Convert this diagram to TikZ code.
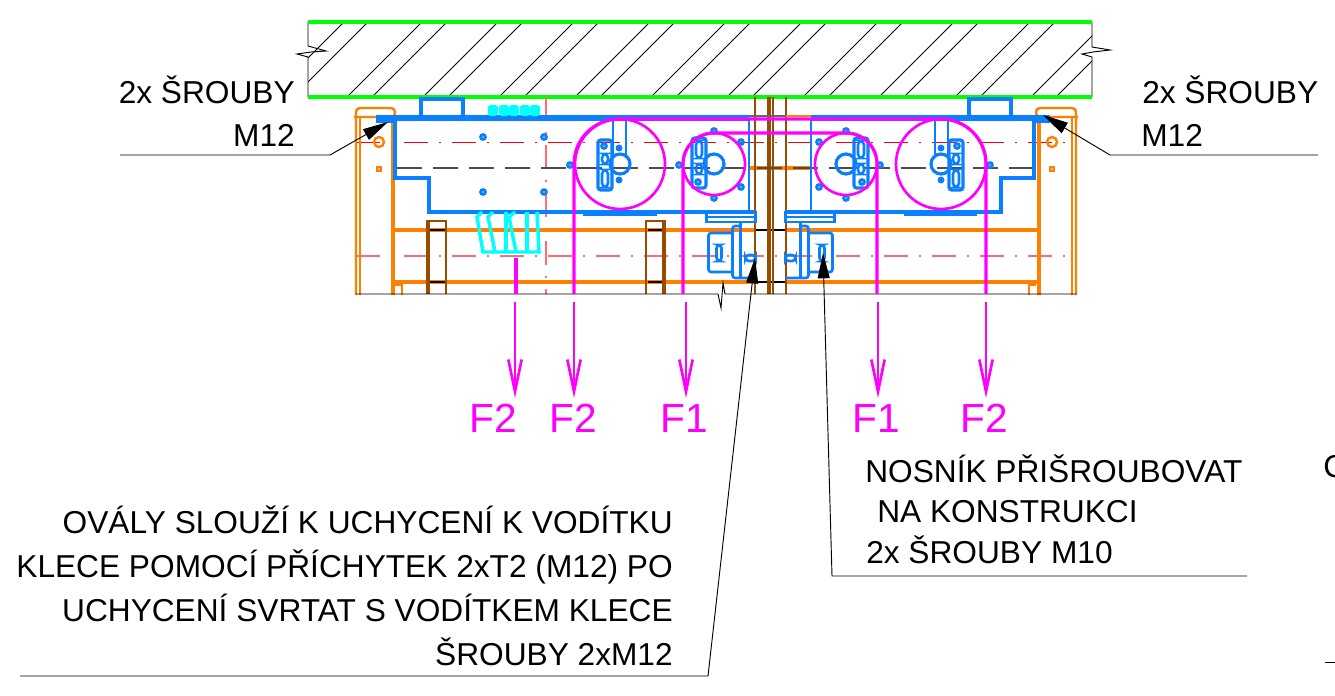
\documentclass[tikz,border=0pt]{standalone}
\usepackage{fontspec}
\setmainfont{Liberation Sans}
\usetikzlibrary{arrows.meta}
\definecolor{planblue}{RGB}{10,127,255}
\definecolor{planorange}{RGB}{255,127,0}
\definecolor{planbrown}{RGB}{153,76,0}
\definecolor{planred}{RGB}{255,110,110}
\definecolor{planmagenta}{RGB}{255,0,255}
\definecolor{plancyan}{RGB}{0,255,255}
\definecolor{plangreen}{RGB}{0,255,0}
\definecolor{planaxis}{RGB}{255,0,0}
% pulley fittings, #1 centre x, #2 mirror, #3 flip
\newcommand{\pulleyhub}[3]{
	\begin{scope}[shift={(#1,164)}, xscale=#2, yscale=#3]
		\draw[blueline] (0,0) circle (10);
		\draw[blueline, rounded corners=2] (-22,-24) rectangle (-8,26);
		\draw[blueline, line width=1.9pt, rounded corners=3] (-18,6) rectangle (-12,23);
		\draw[blueline, line width=1.9pt, rounded corners=3] (-18,-10) rectangle (-12,0);
		\node[hole] (hole#1) at (-16,-18) {};
	\end{scope}
}
\begin{document}
\begin{tikzpicture}[
		x=0.75pt, y=-0.75pt,
		wall/.style = {plangreen, line width=2.8pt},
		hatchline/.style = {black, line width=0.7pt},
		blueline/.style = {planblue, line width=2.4pt},
		bluebar/.style = {planblue, line width=3.8pt},
		orangeline/.style = {planorange, line width=2.8pt},
		brownline/.style = {planbrown, line width=1.6pt},
		brownbar/.style = {planbrown, line width=3pt},
		cable/.style = {planmagenta, line width=2.4pt},
		load/.style = {planmagenta, line width=2pt, -{Straight Barb[length=24pt, width=10pt, line width=2pt]}},
		axisred/.style = {planaxis, line width=0.7pt, dash pattern=on 18pt off 8.5pt on 1pt off 8.5pt},
		axispale/.style = {planred, line width=1.1pt, dash pattern=on 18pt off 8.5pt on 1pt off 8.5pt},
		leader/.style = {black, line width=0.7pt},
		pointer/.style = {black, line width=0.7pt, {Stealth[length=19pt, width=9pt, inset=0pt]}-},
		hole/.style = {circle, draw=planblue, line width=2.2pt, minimum size=3.5pt, inner sep=0pt},
		note/.style = {font=\fontsize{23.75}{24}\selectfont, inner sep=0pt},
		force/.style = {font=\fontsize{30.5}{31}\selectfont, text=planmagenta, inner sep=0pt}]
		\useasboundingbox (0,0) rectangle (1335,696);
		% wall
		\begin{scope}
			\clip (308,22) rectangle (1092,97);
			\foreach \i in {0,...,10} {
				\draw[hatchline] (347+76*\i,97) -- ++(76,-76);
				\draw[hatchline] (372+76*\i,97) -- ++(76,-76);
			}
			\draw[hatchline] (308,82) -- ++(60,-60);
			\draw[hatchline] (308,58) -- ++(36,-36);
		\end{scope}
		\draw[hatchline] (308,22) -- (308,46) -- (326,51) -- (311,52) -- (297,54) -- (308,57) -- (308,97);
		\draw[hatchline] (1092,22) -- (1092,47) -- (1110,50) -- (1093,52) -- (1082,54) -- (1092,57) -- (1092,97);
		\draw[wall] (308,22) -- (1092,22);
		\draw[wall] (308,97) -- (1092,97);
		% axes
		\draw[axisred] (356,142) -- (1076,142);
		\draw[axispale] (356,256) -- (1076,256);
		\draw[axispale] (546,97) -- (546,294);
		\draw[axispale] (770,97) -- (770,294);
		% frame
		\draw[orangeline, line width=1.8pt, rounded corners=3] (356,295) -- (356,108) -- (395,108) -- (395,117) -- (354,117);
		\draw[orangeline, line width=1.8pt] (360,117) -- (360,295);
		\draw[orangeline, line width=1.8pt, rounded corners=3] (1076,295) -- (1076,108) -- (1036,108) -- (1036,117) -- (1078,117);
		\draw[orangeline, line width=1.8pt] (1072,117) -- (1072,295);
		\draw[orangeline, line width=3.4pt] (393,117) -- (393,295);
		\draw[orangeline, line width=3.4pt] (1039,117) -- (1039,295);
		\draw[orangeline] (395,230) -- (755,230);
		\draw[orangeline] (785,230) -- (1037,230);
		\draw[orangeline] (395,282) -- (755,282);
		\draw[orangeline] (785,282) -- (1037,282);
		\draw[orangeline] (749,168) -- (811,168);
		\draw[orangeline, line width=1.2pt] (395,285) -- (402,285) -- (402,295);
		\draw[orangeline, line width=1.2pt] (1036,285) -- (1029,285) -- (1029,295);
		\draw[black, line width=1pt] (755,230) -- (785,230);
		\draw[black, line width=1pt] (755,282) -- (785,282);
		\draw[black, line width=1pt] (429,230) -- (446,230);
		\draw[black, line width=1pt] (429,282) -- (446,282);
		\draw[black, line width=1pt] (648,230) -- (665,230);
		\draw[black, line width=1pt] (648,282) -- (665,282);
		\draw[planorange, line width=1.8pt] (379,142) circle (5);
		\draw[planorange, line width=1.8pt] (1052,142) circle (5);
		\node[draw=planorange, fill=planorange!50, line width=1.4pt, minimum size=3.5pt, inner sep=0pt] (pinleft) at (379,169) {};
		\node[draw=planorange, fill=planorange!50, line width=1.4pt, minimum size=3.5pt, inner sep=0pt] (pinright) at (1052,169) {};
		% brown columns
		\draw[brownline] (427,294) -- (427,221) -- (446,221) -- (446,294);
		\draw[brownbar] (428,221) -- (428,294);
		\draw[brownline] (646,294) -- (646,221) -- (665,221) -- (665,294);
		\draw[brownbar] (664,221) -- (664,294);
		\draw[brownline] (755,97) -- (755,294);
		\draw[brownline] (786,97) -- (786,294);
		\draw[brownbar] (769,97) -- (769,294);
		\draw[brownline] (773,97) -- (773,294);
		\draw[black!70, line width=1.6pt, dash pattern=on 18.75pt off 8.25pt] (397,168) -- (1034,168);
		% base line
		\draw[leader] (356,294) -- (718,294) -- (721,308) -- (723,283) -- (725,294) -- (1076,294);
		% plates
		\draw[black!60, line width=1.2pt] (749,116) -- (786,116);
		\draw[planorange, line width=1.2pt] (786,116) -- (811,116);
		\draw[bluebar] (376,118) -- (749,118);
		\draw[bluebar] (811,118) -- (1050,118);
		\draw[planblue, line width=3.5pt] (376,121) -- (395,121);
		\draw[planblue, line width=3.5pt] (1034,121) -- (1050,121);
		\draw[blueline] (395,118) -- (395,178) -- (429,178) -- (429,212) -- (754,212);
		\draw[blueline, line width=1.9pt] (749,118) -- (749,212);
		\draw[blueline, line width=1.9pt] (811,118) -- (811,212);
		\draw[blueline] (786,212) -- (1001,212) -- (1001,178) -- (1034,178) -- (1034,118);
		\draw[blueline] (583,214) -- (657,214);
		\draw[blueline] (904,214) -- (977,214);
		\draw[blueline] (421,117) -- (421,99) -- (463,99) -- (463,117);
		\draw[blueline] (969,117) -- (969,99) -- (1011,99) -- (1011,117);
		% teeth
		\foreach \x in {488,499,509,520,530} {
			\fill[plancyan, rounded corners=2] (\x,116) rectangle (\x+10,105);
		}
		\draw[plancyan, line width=2.6pt] (482,212) -- (477,217) -- (483,252) -- (539,252) -- (537,212);
		\draw[plancyan, line width=2.6pt] (493,212) -- (488,217) -- (495,252);
		\draw[plancyan, line width=2.6pt] (506,212) -- (506,252);
		\draw[plancyan, line width=2.6pt] (515,212) -- (509,217) -- (516,252);
		\draw[plancyan, line width=2.6pt] (527,212) -- (527,252);
		% holes
		\foreach \x/\y [count=\i] in {483/137, 544/137, 483/192, 544/192, 570/165, 679/165, 714/131, 714/198, 741/142, 741/187, 846/131, 846/198, 819/142, 819/187, 880/165, 990/165} {
			\node[hole] (plate\i) at (\x,\y) {};
		}
		\pulleyhub{620}{1}{1}
		\pulleyhub{941}{-1}{1}
		\pulleyhub{714}{1}{-1}
		\pulleyhub{846}{-1}{-1}
		\draw[blueline, line width=1.8pt] (613,116) -- (613,158);
		\draw[blueline, line width=1.8pt] (626,116) -- (626,158);
		\draw[blueline, line width=1.8pt] (935,116) -- (935,158);
		\draw[blueline, line width=1.8pt] (948,116) -- (948,158);
		\foreach \x/\y in {619/148, 619/180, 941/148, 941/180} {
			\fill[planblue] (\x,\y) circle (3.5);
		}
		% wall brackets
		\foreach \m in {1,-1} {
			\begin{scope}[shift={(770.5,0)}, xscale=\m]
				\draw[blueline, line width=1.8pt] (-64,212) rectangle (-15,222);
				\draw[blueline, line width=1.8pt] (-64,217) -- (-15,217);
				\draw[blueline, line width=2pt] (-30,222) -- (-30,278);
				\draw[blueline, line width=2pt, rounded corners=2] (-15,278) -- (-38,278) -- (-38,226) -- (-30,226);
				\draw[blueline, line width=2pt, rounded corners=2] (-38,233) -- (-62,233) -- (-62,272) -- (-38,272);
				\draw[blueline, line width=2pt, rounded corners=2.5] (-54,245) rectangle (-49,261);
				\draw[blueline, line width=2pt, rounded corners=2.5] (-25,255) rectangle (-15,261);
			\end{scope}
		}
		% cables
		\draw[cable] (574,294) -- (574,164) arc[start angle=180, end angle=270, radius=45] -- (941,119) arc[start angle=270, end angle=360, radius=45] -- (986,294);
		\draw[cable] (683,294) -- (683,164) arc[start angle=180, end angle=270, radius=31] -- (846,133) arc[start angle=270, end angle=360, radius=31] -- (877,294);
		\draw[planmagenta, line width=2pt] (620,164) circle (45);
		\draw[planmagenta, line width=2pt] (941,164) circle (45);
		\draw[planmagenta, line width=2pt] (714,164) circle (31);
		\draw[planmagenta, line width=2pt] (846,164) circle (31);
		\draw[cable] (516,258) -- (516,294);
		% load arrows
		\coordinate (loadstartA) at (515,302);
		\coordinate (loadstartB) at (574,302);
		\coordinate (loadstartC) at (686,302);
		\coordinate (loadstartD) at (878,302);
		\coordinate (loadstartE) at (986,302);
		\node[force, anchor=base] (forceA) at (493,432) {F2};
		\node[force, anchor=base] (forceB) at (573,432) {F2};
		\node[force, anchor=base] (forceC) at (684,432) {F1};
		\node[force, anchor=base] (forceD) at (876,432) {F1};
		\node[force, anchor=base] (forceE) at (984,432) {F2};
		\draw[load] (loadstartA) -- (515,398);
		\draw[load] (loadstartB) -- (574,398);
		\draw[load] (loadstartC) -- (686,398);
		\draw[load] (loadstartD) -- (878,398);
		\draw[load] (loadstartE) -- (986,398);
		% notes
		\node[note, anchor=base east] (boltleftA) at (295,103) {2x ŠROUBY};
		\node[note, anchor=base east] (boltleftB) at (295,146) {M12};
		\node[note, anchor=base west] (boltrightA) at (1142,103) {2x ŠROUBY};
		\node[note, anchor=base west] (boltrightB) at (1141,146) {M12};
		\node[note, anchor=base west] (beamA) at (865,482) {NOSNÍK PŘIŠROUBOVAT};
		\node[note, anchor=base west] (beamB) at (877,522) {NA KONSTRUKCI};
		\node[note, anchor=base west] (beamC) at (866,563) {2x ŠROUBY M10};
		\node[note, anchor=base east] (ovalA) at (673,533) {OVÁLY SLOUŽÍ K UCHYCENÍ K VODÍTKU};
		\node[note, anchor=base east] (ovalB) at (673,577) {KLECE POMOCÍ PŘÍCHYTEK 2xT2 (M12) PO};
		\node[note, anchor=base east] (ovalC) at (673,621) {UCHYCENÍ SVRTAT S VODÍTKEM KLECE};
		\node[note, anchor=base east] (ovalD) at (673,665) {ŠROUBY 2xM12};
		\node[note, anchor=base west] (cutoff) at (1323,477) {C};
		% leaders
		\coordinate (tipleft) at (388,122);
		\coordinate (kneeleft) at (330,155);
		\coordinate (endleft) at (120,155);
		\coordinate (tipright) at (1043,115);
		\coordinate (kneeright) at (1110,155);
		\coordinate (endright) at (1318,155);
		\coordinate (tipoval) at (755,258);
		\coordinate (kneeoval) at (708,676);
		\coordinate (endoval) at (20,676);
		\coordinate (tipbeam) at (823,253);
		\coordinate (kneebeam) at (832,576);
		\coordinate (endbeam) at (1247,576);
		\coordinate (tickstart) at (1325,662);
		\coordinate (tickend) at (1335,662);
		\draw[pointer] (tipleft) -- (kneeleft) -- (endleft);
		\draw[pointer] (tipright) -- (kneeright) -- (endright);
		\draw[pointer] (tipoval) -- (kneeoval) -- (endoval);
		\draw[pointer] (tipbeam) -- (kneebeam) -- (endbeam);
		\draw[leader] (tickstart) -- (tickend);
\end{tikzpicture}
\end{document}
